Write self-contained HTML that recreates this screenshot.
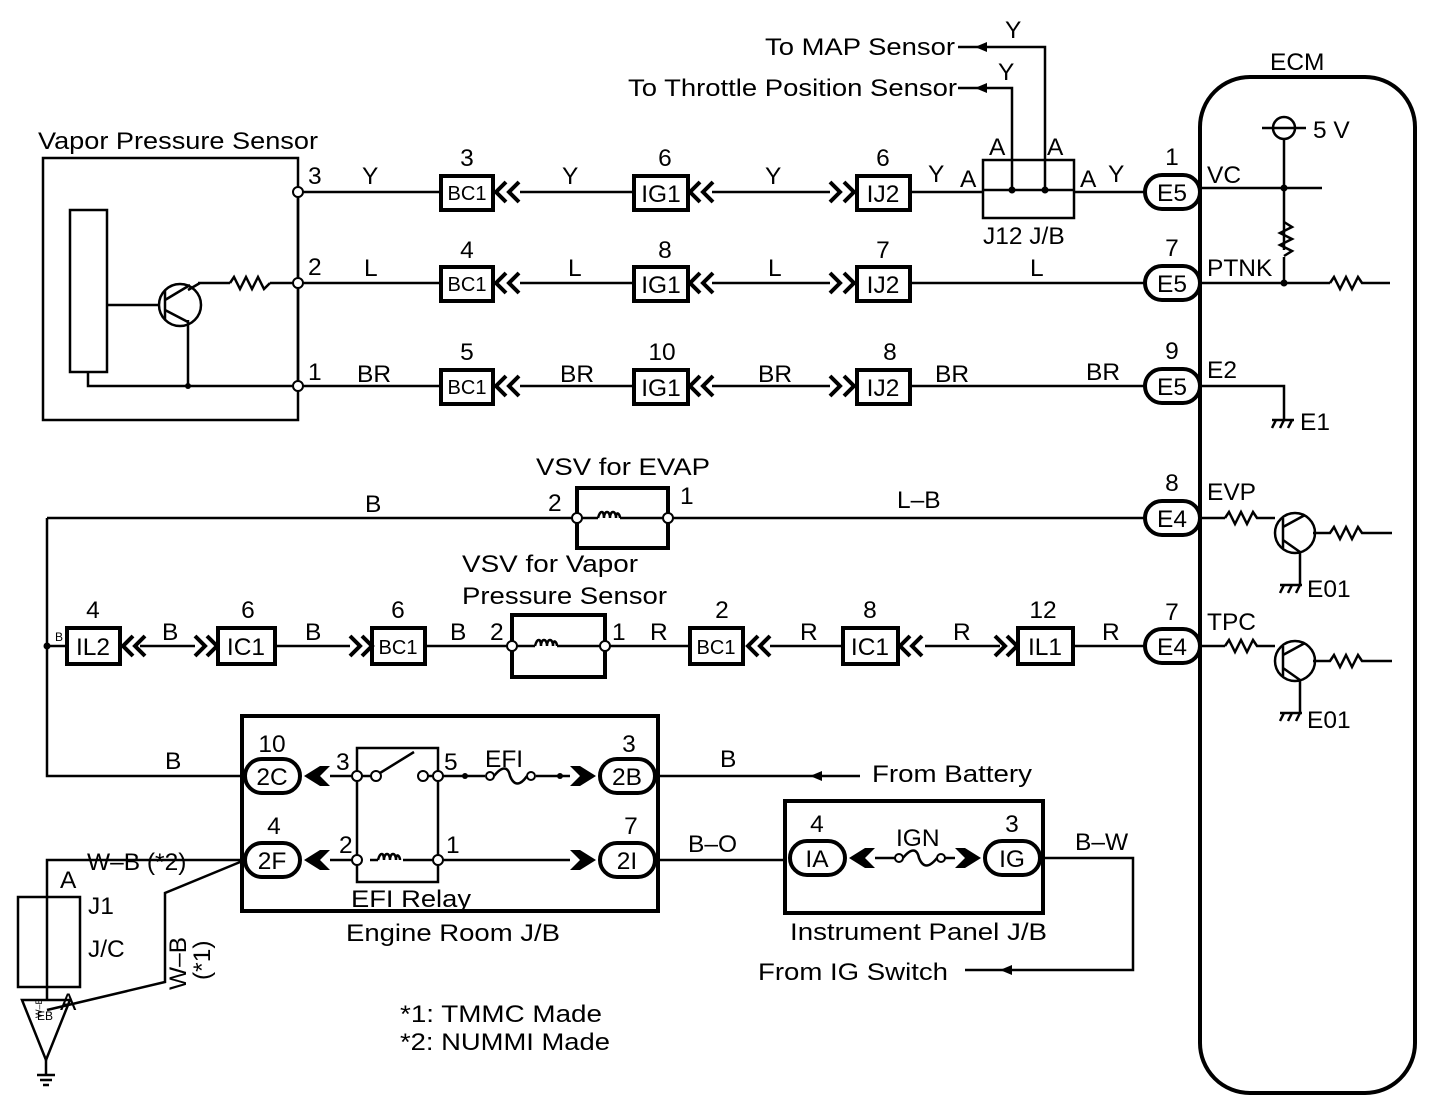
<!DOCTYPE html>
<html><head><meta charset="utf-8"><style>
html,body{margin:0;padding:0;background:#fff}
svg{display:block}
text{font-family:"Liberation Sans",Arial,sans-serif;fill:#000}
</style></head><body>
<svg width="1456" height="1108" viewBox="0 0 1456 1108" xmlns="http://www.w3.org/2000/svg">
<defs>
<style>
.w{stroke:#000;stroke-width:2.5;fill:none}
.b{stroke:#000;stroke-width:4;fill:none}
.bx{stroke:#000;stroke-width:4;fill:#fff}
.pc{stroke:#000;stroke-width:2;fill:#fff}
.t{font-size:24.5px}
.s{font-size:20px}
.c{text-anchor:middle}
</style>
</defs>

<!-- Top labels -->
<text x="765" y="55" class="t" textLength="190" lengthAdjust="spacingAndGlyphs">To MAP Sensor</text>
<text x="628" y="96" class="t" textLength="329" lengthAdjust="spacingAndGlyphs">To Throttle Position Sensor</text>
<path class="w" d="M958 47 H1045 V190"/>
<path class="w" d="M958 88 H1012 V190"/>
<path d="M975 47 l12 -5 v10z M975 88 l12 -5 v10z"/>
<text x="1005" y="38" class="t">Y</text>
<text x="998" y="80" class="t">Y</text>

<!-- Vapor Pressure Sensor -->
<text x="38" y="149" class="t" textLength="280" lengthAdjust="spacingAndGlyphs">Vapor Pressure Sensor</text>
<rect x="43" y="158" width="255" height="262" class="w" stroke-width="3"/>
<rect x="70" y="210" width="37" height="162" class="w" stroke-width="3"/>
<path class="w" d="M107 305 H160 M88 372 V386 H298 M188 320 V386 M298 192 V386 M188 290 L200 283 M198 283 H230 M270 283 H298"/>
<circle cx="180" cy="305" r="21" class="w"/>
<path class="w" d="M165 290 V320 M165 300 L190 285 M165 310 L188 322"/>
<path class="w" d="M230 283 l4 -6 l6 12 l6 -12 l6 12 l6 -12 l6 12 l6 -6"/>
<circle cx="188" cy="386" r="3"/>
<circle cx="298" cy="192" r="5" class="pc"/>
<circle cx="298" cy="283" r="5" class="pc"/>
<circle cx="298" cy="386" r="5" class="pc"/>
<text x="308" y="184" class="t">3</text>
<text x="308" y="275" class="t">2</text>
<text x="308" y="380" class="t">1</text>

<!-- Row wires -->
<path class="w" d="M303 192 H441 M520 192 H634 M712 192 H830 M910 192 H983 M1074 192 H1145"/>
<path class="w" d="M303 283 H441 M520 283 H634 M712 283 H830 M910 283 H1145"/>
<path class="w" d="M303 386 H441 M520 386 H634 M712 386 H830 M910 386 H1145"/>
<text x="362" y="184" class="t">Y</text><text x="562" y="184" class="t">Y</text><text x="765" y="184" class="t">Y</text><text x="928" y="182" class="t">Y</text><text x="1108" y="182" class="t">Y</text>
<text x="364" y="276" class="t">L</text><text x="568" y="276" class="t">L</text><text x="768" y="276" class="t">L</text><text x="1030" y="276" class="t">L</text>
<text x="357" y="382" class="t">BR</text><text x="560" y="382" class="t">BR</text><text x="758" y="382" class="t">BR</text><text x="935" y="382" class="t">BR</text><text x="1086" y="380" class="t">BR</text>

<g>
<rect x="441" y="176" width="52" height="34" class="bx"/><text x="467" y="200" class="s c">BC1</text><text x="467" y="166" class="t c">3</text>
<rect x="441" y="267" width="52" height="34" class="bx"/><text x="467" y="291" class="s c">BC1</text><text x="467" y="258" class="t c">4</text>
<rect x="441" y="370" width="52" height="34" class="bx"/><text x="467" y="394" class="s c">BC1</text><text x="467" y="360" class="t c">5</text>
<rect x="634" y="176" width="54" height="34" class="bx"/><text x="661" y="202" class="t c">IG1</text><text x="665" y="166" class="t c">6</text>
<rect x="634" y="267" width="54" height="34" class="bx"/><text x="661" y="293" class="t c">IG1</text><text x="665" y="258" class="t c">8</text>
<rect x="634" y="370" width="54" height="34" class="bx"/><text x="661" y="396" class="t c">IG1</text><text x="662" y="360" class="t c">10</text>
<rect x="857" y="176" width="53" height="34" class="bx"/><text x="883" y="202" class="t c">IJ2</text><text x="883" y="166" class="t c">6</text>
<rect x="857" y="267" width="53" height="34" class="bx"/><text x="883" y="293" class="t c">IJ2</text><text x="883" y="258" class="t c">7</text>
<rect x="857" y="370" width="53" height="34" class="bx"/><text x="883" y="396" class="t c">IJ2</text><text x="890" y="360" class="t c">8</text>
</g>
<g class="b">
<path d="M506 182 l-10 10 l10 10 M519 182 l-10 10 l10 10"/>
<path d="M506 273 l-10 10 l10 10 M519 273 l-10 10 l10 10"/>
<path d="M506 376 l-10 10 l10 10 M519 376 l-10 10 l10 10"/>
<path d="M700 182 l-10 10 l10 10 M713 182 l-10 10 l10 10"/>
<path d="M700 273 l-10 10 l10 10 M713 273 l-10 10 l10 10"/>
<path d="M700 376 l-10 10 l10 10 M713 376 l-10 10 l10 10"/>
<path d="M830 182 l10 10 l-10 10 M844 182 l10 10 l-10 10"/>
<path d="M830 273 l10 10 l-10 10 M844 273 l10 10 l-10 10"/>
<path d="M830 376 l10 10 l-10 10 M844 376 l10 10 l-10 10"/>
</g>

<!-- J12 J/B -->
<rect x="983" y="160" width="91" height="58" class="w"/>
<path class="w" d="M983 190 H1074"/>
<circle cx="1012" cy="190" r="3.5"/><circle cx="1045" cy="190" r="3.5"/>
<text x="989" y="155" class="t">A</text><text x="1047" y="155" class="t">A</text>
<text x="960" y="187" class="t">A</text><text x="1080" y="187" class="t">A</text>
<text x="983" y="244" class="t">J12 J/B</text>

<!-- ECM -->
<text x="1270" y="70" class="t">ECM</text>
<rect x="1200" y="77" width="215" height="1016" rx="50" ry="50" class="b"/>
<g>
<rect x="1145" y="175" width="55" height="34" rx="17" class="bx"/><text x="1172" y="201" class="t c">E5</text><text x="1172" y="165" class="t c">1</text>
<rect x="1145" y="266" width="55" height="34" rx="17" class="bx"/><text x="1172" y="292" class="t c">E5</text><text x="1172" y="256" class="t c">7</text>
<rect x="1145" y="369" width="55" height="34" rx="17" class="bx"/><text x="1172" y="395" class="t c">E5</text><text x="1172" y="359" class="t c">9</text>
<rect x="1145" y="501" width="55" height="34" rx="17" class="bx"/><text x="1172" y="527" class="t c">E4</text><text x="1172" y="491" class="t c">8</text>
<rect x="1145" y="629" width="55" height="34" rx="17" class="bx"/><text x="1172" y="655" class="t c">E4</text><text x="1172" y="620" class="t c">7</text>
</g>
<text x="1207" y="183" class="t">VC</text>
<text x="1207" y="276" class="t">PTNK</text>
<text x="1207" y="378" class="t">E2</text>
<text x="1207" y="500" class="t">EVP</text>
<text x="1207" y="630" class="t">TPC</text>
<circle cx="1284" cy="128" r="11" class="w"/>
<path class="w" d="M1262 128 H1306 M1284 139 V250 M1284 257 V283 M1200 188 H1322 M1200 283 H1330"/>
<path class="w" d="M1284 222 l8 5 l-12 6 l12 6 l-12 6 l12 6 l-8 5"/>
<path class="w" d="M1330 283 l4 -6 l6 12 l6 -12 l6 12 l6 -12 l4 6 H1390"/>
<circle cx="1284" cy="188" r="3.5"/><circle cx="1284" cy="283" r="3.5"/>
<text x="1313" y="138" class="t">5 V</text>
<path class="w" d="M1200 386 H1284 V420 M1272 428 l4 -8 M1280 428 l4 -8 M1288 428 l4 -8 M1272 420 H1294"/>
<text x="1300" y="430" class="t">E1</text>
<path class="w" d="M1200 518 H1225 M1225 518 l4 -6 l6 12 l6 -12 l6 12 l6 -12 l4 6 H1275"/>
<circle cx="1295" cy="533" r="20" class="w"/>
<path class="w" d="M1283 518 V548 M1283 527 L1305 515 M1283 540 L1300 552 M1300 552 V585 M1313 533 H1330 l4 -6 l6 12 l6 -12 l6 12 l6 -12 l4 6 H1392"/>
<path class="w" d="M1280 585 H1302 M1280 593 l4 -8 M1288 593 l4 -8 M1296 593 l4 -8"/>
<text x="1307" y="597" class="t">E01</text>
<path class="w" d="M1200 646 H1225 M1225 646 l4 -6 l6 12 l6 -12 l6 12 l6 -12 l4 6 H1275"/>
<circle cx="1295" cy="661" r="20" class="w"/>
<path class="w" d="M1283 646 V676 M1283 655 L1305 643 M1283 668 L1300 680 M1300 680 V713 M1313 661 H1330 l4 -6 l6 12 l6 -12 l6 12 l6 -12 l4 6 H1392"/>
<path class="w" d="M1280 713 H1302 M1280 721 l4 -8 M1288 721 l4 -8 M1296 721 l4 -8"/>
<text x="1307" y="728" class="t">E01</text>

<!-- Row 4 VSV EVAP -->
<text x="536" y="475" class="t" textLength="174" lengthAdjust="spacingAndGlyphs">VSV for EVAP</text>
<path class="b" d="M577 518 V488 H668 V548 H577 V518"/>
<path class="w" d="M47 518 H572 M673 518 H1145 M582 518 H598 M620 518 H663"/>
<path class="w" d="M598 518 c2 -8 6 -8 6 0 c0 -8 6 -8 6 0 c0 -8 6 -8 6 0 c0 -8 4 -4 4 0"/>
<circle cx="577" cy="518" r="5" class="pc"/><circle cx="668" cy="518" r="5" class="pc"/>
<text x="548" y="511" class="t">2</text><text x="680" y="504" class="t">1</text>
<text x="365" y="512" class="t">B</text><text x="897" y="508" class="t">L–B</text>

<!-- Row 5 -->
<path class="w" d="M47 518 V776 H245"/>
<circle cx="47" cy="646" r="3.5"/>
<path class="w" d="M47 646 H67 M140 646 H195 M275 646 H350 M425 646 H507 M610 646 H690 M770 646 H843 M925 646 H1000 M1073 646 H1145"/>
<text x="55" y="641" font-size="12">B</text>
<rect x="67" y="628" width="53" height="36" class="bx"/><text x="93" y="655" class="t c">IL2</text><text x="93" y="618" class="t c">4</text>
<rect x="218" y="628" width="57" height="36" class="bx"/><text x="246" y="655" class="t c">IC1</text><text x="248" y="618" class="t c">6</text>
<rect x="372" y="628" width="53" height="36" class="bx"/><text x="398" y="654" class="s c">BC1</text><text x="398" y="618" class="t c">6</text>
<rect x="690" y="628" width="53" height="36" class="bx"/><text x="716" y="654" class="s c">BC1</text><text x="722" y="618" class="t c">2</text>
<rect x="843" y="628" width="55" height="36" class="bx"/><text x="870" y="655" class="t c">IC1</text><text x="870" y="618" class="t c">8</text>
<rect x="1018" y="628" width="55" height="36" class="bx"/><text x="1045" y="655" class="t c">IL1</text><text x="1043" y="618" class="t c">12</text>
<g class="b">
<path d="M133 636 l-10 10 l10 10 M145 636 l-10 10 l10 10"/>
<path d="M195 636 l10 10 l-10 10 M207 636 l10 10 l-10 10"/>
<path d="M350 636 l10 10 l-10 10 M362 636 l10 10 l-10 10"/>
<path d="M758 636 l-10 10 l10 10 M770 636 l-10 10 l10 10"/>
<path d="M910 636 l-10 10 l10 10 M922 636 l-10 10 l10 10"/>
<path d="M995 636 l10 10 l-10 10 M1007 636 l10 10 l-10 10"/>
</g>
<text x="162" y="640" class="t">B</text><text x="305" y="640" class="t">B</text><text x="450" y="640" class="t">B</text>
<text x="650" y="640" class="t">R</text><text x="800" y="640" class="t">R</text><text x="953" y="640" class="t">R</text><text x="1102" y="640" class="t">R</text>
<text x="462" y="572" class="t" textLength="176" lengthAdjust="spacingAndGlyphs">VSV for Vapor</text>
<text x="462" y="604" class="t" textLength="205" lengthAdjust="spacingAndGlyphs">Pressure Sensor</text>
<path class="b" d="M512 646 V615 H605 V677 H512 V646"/>
<path class="w" d="M517 646 H535 M557 646 H600"/>
<path class="w" d="M535 646 c2 -8 6 -8 6 0 c0 -8 6 -8 6 0 c0 -8 6 -8 6 0 c0 -8 4 -4 4 0"/>
<circle cx="512" cy="646" r="5" class="pc"/><circle cx="605" cy="646" r="5" class="pc"/>
<text x="490" y="640" class="t">2</text><text x="612" y="640" class="t">1</text>

<!-- Engine Room J/B -->
<rect x="242" y="716" width="416" height="195" class="b"/>
<text x="165" y="769" class="t">B</text>
<rect x="245" y="759" width="55" height="34" rx="17" class="bx"/><text x="272" y="785" class="t c">2C</text><text x="272" y="752" class="t c">10</text>
<rect x="245" y="843" width="55" height="34" rx="17" class="bx"/><text x="272" y="869" class="t c">2F</text><text x="274" y="834" class="t c">4</text>
<rect x="600" y="759" width="55" height="34" rx="17" class="bx"/><text x="627" y="785" class="t c">2B</text><text x="629" y="752" class="t c">3</text>
<rect x="600" y="843" width="55" height="34" rx="17" class="bx"/><text x="627" y="869" class="t c">2I</text><text x="631" y="834" class="t c">7</text>
<path d="M304 776 l16 -10 h10 l-10 10 l10 10 h-10z M304 860 l16 -10 h10 l-10 10 l10 10 h-10z"/>
<path d="M596 776 l-16 -10 h-10 l10 10 l-10 10 h10z M596 860 l-16 -10 h-10 l10 10 l-10 10 h10z"/>
<path class="w" d="M330 776 H352 M443 776 H485 M536 776 H570 M330 860 H352 M443 860 H570 M362 776 H372 M380 773 L414 752 M428 776 H433"/>
<rect x="357" y="748" width="81" height="134" class="w" stroke-width="3"/>
<path class="w" d="M370 860 H378 M403 860 H433"/>
<path class="w" d="M378 860 c2 -8 6 -8 6 0 c0 -8 6 -8 6 0 c0 -8 6 -8 6 0 c0 -8 4 -4 4 0"/>
<circle cx="357" cy="776" r="5" class="pc"/><circle cx="376" cy="776" r="5" class="pc"/><circle cx="423" cy="776" r="5" class="pc"/><circle cx="438" cy="776" r="5" class="pc"/>
<circle cx="357" cy="860" r="5" class="pc"/><circle cx="438" cy="860" r="5" class="pc"/>
<circle cx="465" cy="776" r="3"/><circle cx="560" cy="776" r="3"/>
<circle cx="490" cy="776" r="4" class="pc"/><circle cx="531" cy="776" r="4" class="pc"/>
<path class="w" d="M494 776 c8 -10 14 -10 16 0 c4 10 10 10 17 0"/>
<text x="336" y="770" class="t">3</text><text x="444" y="770" class="t">5</text><text x="485" y="767" class="t">EFI</text>
<text x="339" y="853" class="t">2</text><text x="446" y="853" class="t">1</text>
<text x="351" y="907" class="t" textLength="120" lengthAdjust="spacingAndGlyphs">EFI Relay</text>
<text x="346" y="941" class="t" textLength="214" lengthAdjust="spacingAndGlyphs">Engine Room J/B</text>
<path class="w" d="M655 776 H860 M655 860 H785"/>
<path d="M810 776 l12 -5 v10z"/>
<text x="720" y="767" class="t">B</text>
<text x="872" y="782" class="t" textLength="160" lengthAdjust="spacingAndGlyphs">From Battery</text>
<text x="688" y="852" class="t">B–O</text>

<!-- Instrument Panel J/B -->
<rect x="785" y="801" width="258" height="112" class="b"/>
<rect x="790" y="841" width="55" height="34" rx="17" class="bx"/><text x="817" y="867" class="t c">IA</text><text x="817" y="832" class="t c">4</text>
<rect x="985" y="841" width="55" height="34" rx="17" class="bx"/><text x="1012" y="867" class="t c">IG</text><text x="1012" y="832" class="t c">3</text>
<path d="M849 858 l16 -10 h10 l-10 10 l10 10 h-10z M981 858 l-16 -10 h-10 l10 10 l-10 10 h10z"/>
<path class="w" d="M875 858 H895 M945 858 H955"/>
<circle cx="899" cy="858" r="4" class="pc"/><circle cx="941" cy="858" r="4" class="pc"/>
<path class="w" d="M903 858 c8 -10 14 -10 16 0 c4 10 10 10 18 0"/>
<text x="896" y="846" class="t">IGN</text>
<text x="790" y="940" class="t" textLength="257" lengthAdjust="spacingAndGlyphs">Instrument Panel J/B</text>
<path class="w" d="M1040 858 H1133 V970 H965"/>
<path d="M1000 970 l12 -5 v10z"/>
<text x="1075" y="850" class="t">B–W</text>
<text x="758" y="980" class="t" textLength="190" lengthAdjust="spacingAndGlyphs">From IG Switch</text>

<!-- J1 J/C and ground -->
<path class="w" d="M245 860 H47 V897 M47 987 V1000 M245 860 L165 893 V982 L47 1010"/>
<rect x="18" y="897" width="62" height="90" class="w" stroke-width="3.5"/>
<path class="w" d="M47 897 V987"/>
<text x="88" y="914" class="t">J1</text><text x="88" y="957" class="t">J/C</text>
<text x="60" y="888" class="t">A</text><text x="60" y="1010" class="t">A</text>
<text x="87" y="870" class="t">W–B (*2)</text>
<text transform="translate(186,990) rotate(-90)" class="t">W–B</text>
<text transform="translate(210,980) rotate(-90)" class="t">(*1)</text>
<text transform="translate(42,1018) rotate(-90)" font-size="9">W–B</text>
<path class="w" d="M22 1000 H70 L46 1060 Z"/>
<text x="37" y="1020" font-size="12">EB</text>
<path class="w" d="M46 1060 V1075 M37 1075 H55 M40 1080 H52 M43 1085 H49"/>

<text x="400" y="1022" class="t" textLength="202" lengthAdjust="spacingAndGlyphs">*1: TMMC Made</text>
<text x="400" y="1050" class="t" textLength="210" lengthAdjust="spacingAndGlyphs">*2: NUMMI Made</text>
</svg>
</body></html>
